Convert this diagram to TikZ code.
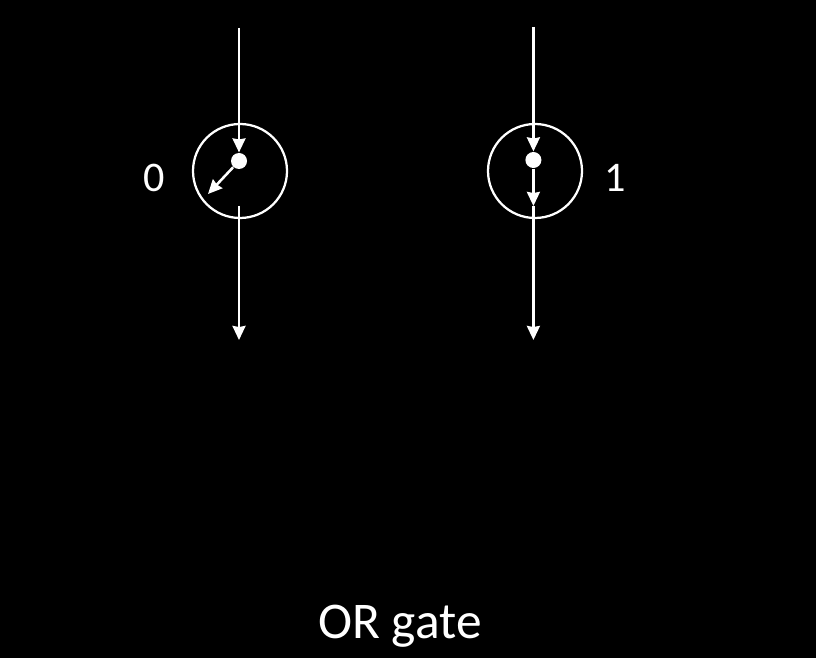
\documentclass[tikz,border=0pt]{standalone}
\usepackage{fontspec}
\setmainfont{Carlito}
\usetikzlibrary{arrows.meta}
\tikzset{
  gatering/.style={draw=white, circle, line width=0.8pt, inner sep=0pt, minimum size=1.175cm},
  pivot/.style={fill=white, circle, inner sep=0pt, minimum size=0.2cm},
  wire/.style={draw=white, line width=0.9pt, -{Stealth[length=5pt,width=4.6pt,inset=0.4pt]}},
  bitlabel/.style={text=white, font=\fontsize{15}{17}\selectfont},
  caption/.style={text=white, font=\fontsize{18.3}{21}\selectfont}
}

\begin{document}
\begin{tikzpicture}[scale=0.5, >=Stealth]
% Background
\fill[black] (0,0) rectangle (20.4,16.45);
\useasboundingbox (0,0) rectangle (20.4,16.45);

% Left gate
\node[gatering] (ringL) at (6,12.175) {};
\node[pivot] (pivotL) at (5.975,12.425) {};
\coordinate (inL) at (5.975,15.75);
\coordinate (tipL) at (5.2,11.6);
\coordinate (fromL) at (5.975,11.3);
\coordinate (outL) at (5.975,7.95);

% Right gate
\node[gatering] (ringR) at (13.375,12.175) {};
\node[pivot] (pivotR) at (13.335,12.45) {};
\coordinate (inR) at (13.335,15.775);
\coordinate (tipR) at (13.335,11.3);
\coordinate (fromR) at (13.335,11.3);
\coordinate (outR) at (13.335,7.95);

% Wires
\draw[wire] (inL) -- (pivotL);
\draw[wire] (pivotL) -- (tipL);
\draw[wire] (fromL) -- (outL);
\draw[wire] (inR) -- (pivotR);
\draw[wire] (pivotR) -- (tipR);
\draw[wire] (fromR) -- (outR);

% Labels
\node[bitlabel] (bitL) at (3.85,12) {0};
\node[bitlabel] (bitR) at (15.375,12) {1};
\node[caption] (title) at (10,0.8) {OR gate};
\end{tikzpicture}
\end{document}
